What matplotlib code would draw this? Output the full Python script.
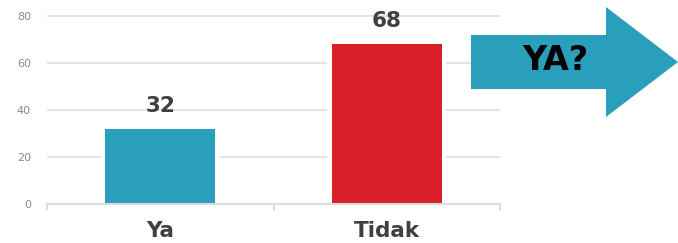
import matplotlib
matplotlib.use("Agg")
import matplotlib.pyplot as plt
from matplotlib.patches import Polygon

categories = ["Ya", "Tidak"]
values = [32, 68]
colors = ["#2AA0BD", "#DA1F28"]
yticks = [0, 20, 40, 60, 80]
arrow_text = "YA?"

fig = plt.figure(figsize=(6.78, 2.43), dpi=100)
ax = fig.add_axes([47/678, 39/243, 453/678, 200/243])

x = list(range(len(categories)))
bw = 0.485
ax.set_xlim(-0.5, 1.5)
ax.set_ylim(0, 85)

# gridlines
for t in yticks[1:]:
    ax.axhline(t, color="#e4e4e4", lw=1.4, zorder=1)

# white halo behind bars
ax.bar(x, values, width=bw + 9/227, color="white", zorder=1.5)
bars = ax.bar(x, values, width=bw, color=colors, zorder=2)

for xi, v in zip(x, values):
    ax.annotate(str(v), (xi, v), xytext=(0, 16.5), textcoords="offset points",
                ha="center", va="center", fontsize=15.5, fontweight="bold",
                color="#404040", family="DejaVu Sans")

for s in ["left", "right", "top"]:
    ax.spines[s].set_visible(False)
ax.spines["bottom"].set_color("#dcdcdc")
ax.spines["bottom"].set_linewidth(1.5)

ax.set_yticks(yticks)
ax.set_yticklabels([str(t) for t in yticks])
ax.tick_params(axis="y", length=0, pad=11.5, labelsize=8, labelcolor="#8a8a8a")

ax.set_xticks(x)
ax.set_xticklabels(categories, fontsize=15.5, fontweight="bold", color="#404040")
ax.tick_params(axis="x", which="major", length=0, pad=12.5)
ax.set_xticks([-0.5, 0.5, 1.5], minor=True)
ax.tick_params(axis="x", which="minor", length=4, width=1.5, color="#dcdcdc")

# arrow decoration
W, H = 678, 243
pts = [(471, 35), (606, 35), (606, 7), (678, 62), (606, 117), (606, 89), (471, 89)]
pts = [(px / W, 1 - py / H) for px, py in pts]
fig.patches.append(Polygon(pts, closed=True, transform=fig.transFigure,
                           facecolor="#2A9FBC", edgecolor="none", zorder=3))
fig.text(555/W, 1 - 60/H, arrow_text, ha="center", va="center", fontsize=24,
         fontweight="bold", color="black", zorder=4)

fig.savefig("out.png", dpi=100)
